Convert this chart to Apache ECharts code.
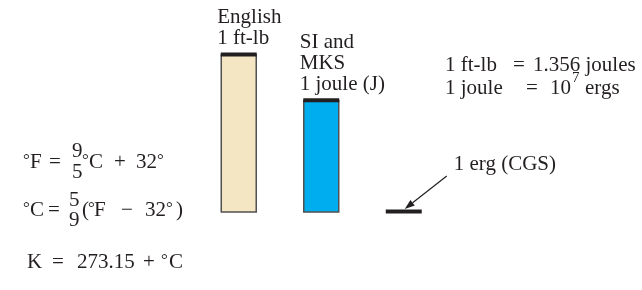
<!DOCTYPE html>
<html>
<head>
<meta charset="utf-8">
<script src="https://cdn.jsdelivr.net/npm/echarts@6/dist/echarts.min.js"></script>
<style>html,body{margin:0;padding:0;background:#fff}#c{width:642px;height:290px}</style>
</head>
<body>
<div id="c"></div>
<script>
// ---- data ----
const categories = ['English', 'SI and MKS', 'CGS'];
const barLabels = ['English\n1 ft-lb', 'SI and\nMKS\n1 joule (J)', ''];
const barHeights = [1.41, 1.0, 0];          // relative heights as drawn
const ergLabel = '1 erg (CGS)';

// ---- styles ----
const FONT = '"Liberation Serif", "Times New Roman", "DejaVu Serif", serif';
const fills = ['#f5e6c3', '#00adee', '#ffffff'];
const capColor = '#231f20';
const edgeColor = '#505050';
const ink = '#231f20';

const chart = echarts.init(document.getElementById('c'), null, {renderer: 'canvas'});

function font(size) { return size + 'px ' + FONT; }

function renderItem(params, api) {
  const i = api.value(0), v = api.value(1);
  const top = api.coord([i, v]);
  const base = api.coord([i, 0]);
  const bw = api.size([1, 0])[0] * 0.424;
  const x = top[0] - bw / 2;
  const children = [];
  if (v > 0) {
    children.push({
      type: 'rect',
      shape: {x: x, y: top[1], width: bw, height: base[1] - top[1]},
      style: {fill: fills[i], stroke: edgeColor, lineWidth: 1.5}
    });
  }
  children.push({
    type: 'rect',
    shape: {x: x - 0.5, y: top[1] - 2.5, width: bw + 1, height: 4},
    style: {fill: capColor}
  });
  if (barLabels[i]) {
    children.push({
      type: 'text',
      x: x - 4, y: top[1] - 6,
      style: {text: barLabels[i], font: font(21), fill: ink,
              align: 'left', verticalAlign: 'bottom', lineHeight: 21}
    });
  }
  return {type: 'group', children: children};
}

function txt(x, y, s, size) {
  return {type: 'text', x: x, y: y,
    style: {text: s, font: font(size || 21), fill: ink, align: 'left', verticalAlign: 'middle'}};
}
function deg(x, y) { return txt(x, y - 1, '°', 17); }

const annotationGraphics = [
  // °F = 9/5 °C + 32°
  deg(23, 162), txt(30, 162, 'F'), txt(49, 162, '='),
  txt(72, 151, '9'), txt(72, 172, '5'),
  deg(82, 162), txt(89, 162, 'C'), txt(114, 162, '+'), txt(136, 162, '32'), deg(157, 162),
  // °C = 5/9 (°F − 32°)
  deg(23, 210), txt(30, 210, 'C'), txt(48, 210, '='),
  txt(69, 200, '5'), txt(69, 220, '9'),
  txt(82, 210, '('), deg(88, 210), txt(94, 210, 'F'), txt(121, 210, '−'),
  txt(145, 210, '32'), deg(166, 210), txt(176, 210, ')'),
  // K = 273.15 + °C
  txt(27, 262, 'K'), txt(52, 262, '='), txt(77, 262, '273.15'), txt(143, 262, '+'),
  deg(161, 262), txt(169, 262, 'C'),
  // conversions
  txt(445, 65, '1 ft-lb'), txt(513, 65, '='), txt(533, 65, '1.356 joules'),
  txt(445, 88, '1 joule'), txt(526, 88, '='), txt(550, 88, '10'),
  txt(572, 78, '7', 15), txt(585, 88, 'ergs')
];

chart.setOption({
  animation: false,
  backgroundColor: '#ffffff',
  grid: {left: 197.5, width: 247.5, top: 55, bottom: 78},
  xAxis: {type: 'category', data: categories, show: false},
  yAxis: {type: 'value', min: 0, max: 'dataMax', show: false},
  series: [{
    type: 'custom',
    renderItem: renderItem,
    data: barHeights.map((v, i) => [i, v]),
    clip: false
  }],
  graphic: annotationGraphics
});

// arrow pointing at the (zero-height) CGS mark
const p = chart.convertToPixel({seriesIndex: 0}, [2, 0]);
const end = [p[0] + 1, p[1] - 3];
const start = [end[0] + 42, end[1] - 33];
const dx = end[0] - start[0], dy = end[1] - start[1];
const len = Math.sqrt(dx * dx + dy * dy);
const ux = dx / len, uy = dy / len;
const hl = 10, hw = 3.5;
const bx = end[0] - ux * hl, by = end[1] - uy * hl;
chart.setOption({
  graphic: annotationGraphics.concat([
    {type: 'line', shape: {x1: start[0], y1: start[1], x2: bx, y2: by},
     style: {stroke: ink, lineWidth: 1.2}},
    {type: 'polygon', shape: {points: [end, [bx - uy * hw, by + ux * hw], [bx + uy * hw, by - ux * hw]]},
     style: {fill: ink}},
    txt(start[0] + 7, start[1] - 12, ergLabel)
  ])
});
</script>
</body>
</html>
